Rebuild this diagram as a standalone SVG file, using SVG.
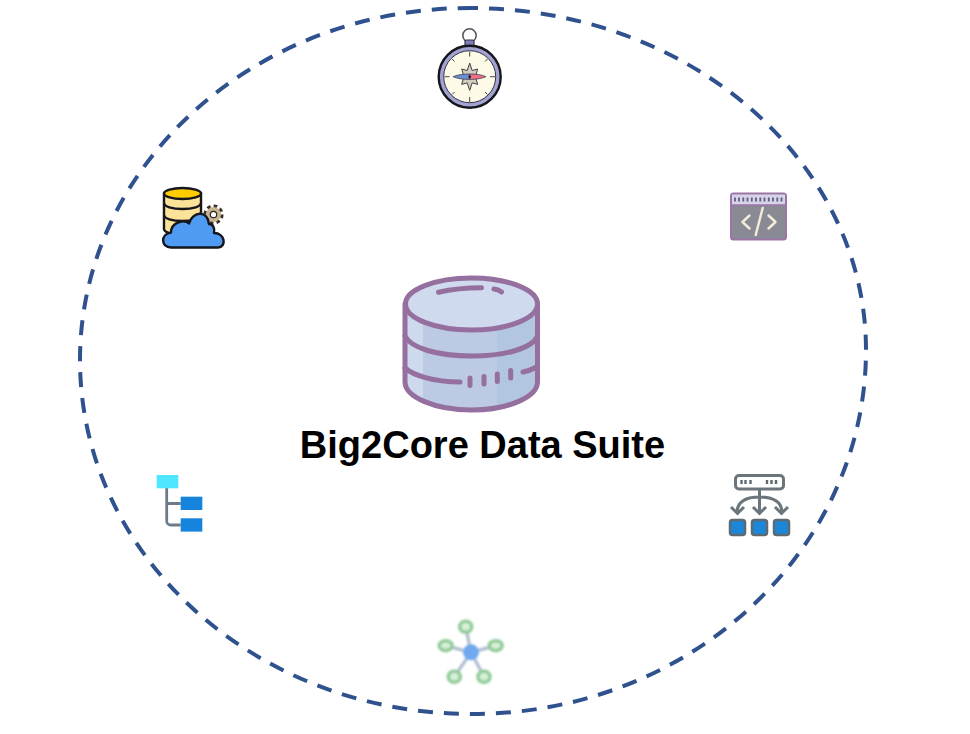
<svg xmlns="http://www.w3.org/2000/svg" width="970" height="734" viewBox="0 0 970 734">
<style>
.title{font-family:"Liberation Sans",Arial,sans-serif;font-weight:700;font-size:38px;fill:#000}
.dbl{fill:none;stroke:#956f9f;stroke-width:5;stroke-linecap:round}
.blk{stroke:#14141c;stroke-width:2.4;stroke-linejoin:round}
.tree{fill:none;stroke:#6c7a89;stroke-width:2.8}
.srv{stroke:#6a757c;stroke-width:3;fill:none}
.sat{fill:#d8efd8;stroke:#8fcb96;stroke-width:3.5}
.hubl{stroke:#a9b9cd;stroke-width:3}
</style>
<defs>
<filter id="s" x="-10%" y="-10%" width="120%" height="120%"><feGaussianBlur stdDeviation="0.5"/></filter>
<filter id="m" x="-10%" y="-10%" width="120%" height="120%"><feGaussianBlur stdDeviation="0.65"/></filter>
<filter id="b" x="-10%" y="-10%" width="120%" height="120%"><feGaussianBlur stdDeviation="1.2"/></filter>
</defs>
<rect width="970" height="734" fill="#fff"/>
<g id="connectors">
<path d="M470 8C688.700 8 866 161.100 866 350C866 551 689.600 714 472 714C255.500 714 80 555.500 80 360C80 165.600 254.600 8 470 8Z" fill="none" stroke="#2f528f" stroke-width="4" stroke-dasharray="15 11" stroke-dashoffset="7"/>
</g>
<g id="node-compass" filter="url(#s)">
<circle cx="469.500" cy="35.500" r="6.700" fill="#fff" stroke="#55555f" stroke-width="1.600"/>
<rect x="465" y="40" width="9" height="6" rx="1.500" fill="#8080b8" stroke="#33334a" stroke-width="1.200"/>
<circle cx="469.700" cy="76.700" r="31" fill="#a3a3d2" class="blk"/>
<circle cx="469.700" cy="76.700" r="26" fill="#fdfbe8" stroke="#33334a" stroke-width="1"/>
<path d="M469.700 51.500v5M469.700 97v5M444.500 76.700h5M490 76.700h5M452 59l2.500 2.500M487.500 59l-2.500 2.500M452 94.500l2.500-2.500M487.500 94.500l-2.500-2.500" stroke="#444" stroke-width="1"/>
<path d="M469.700 63l2.500 7.500 5.500-1.500-2.300 7.700 2.300 7.700-5.500-1.500-2.500 7.500-2.500-7.500-5.500 1.500 2.300-7.700-2.300-7.700 5.500 1.500z" fill="#d0ccc0" stroke="#44444a" stroke-width="1"/>
<path d="M453 76.700c5-2.200 11-2.700 16.700-2.700v5.400c-5.700 0-11.700-.5-16.700-2.700z" fill="#6d8fd0" stroke="#33334a" stroke-width=".7"/>
<path d="M486 76.700c-5-2.200-10.600-2.700-16.300-2.700v5.400c5.700 0 11.300-.5 16.300-2.700z" fill="#ee6f88" stroke="#33334a" stroke-width=".7"/>
<circle cx="469.700" cy="76.700" r="1.300" fill="#111"/>
</g>
<g id="node-cloud-db" filter="url(#s)">
<path d="M164 193v36c0 3 8 6 19 6s18-3 18-6v-36z" fill="#fce39a" class="blk"/>
<path d="M164 203c0 3.500 8 6 18.500 6s18.500-2.500 18.500-6M164 215c0 3.500 8 6 18.500 6s18.500-2.500 18.500-6" fill="none" class="blk"/>
<ellipse cx="182.500" cy="193.500" rx="18.500" ry="5.500" fill="#ffcc00" class="blk"/>
<circle cx="213.500" cy="214.500" r="8.300" fill="none" stroke="#3a3228" stroke-width="3.600" stroke-dasharray="3.500 3"/>
<circle cx="213.500" cy="214.500" r="7.500" fill="#c9b48f"/>
<circle cx="213.500" cy="214.500" r="3.200" fill="#fff" stroke="#222" stroke-width="1.200"/>
<path d="M171 247.500C161 247.500 160 234 171 232.500C171 222 185 219 189 223.500C192 212 207 209 209 224C213 224 215 228 214 233C225 233 227 247 218 247.500Z" fill="#4f9bf3" class="blk"/>
</g>
<g id="node-code" filter="url(#s)">
<rect x="731" y="193.500" width="55" height="46" rx="2.500" fill="#8a8a94" stroke="#9a75a8" stroke-width="2"/>
<rect x="732" y="194.500" width="53" height="10.500" fill="#d9d2ec"/>
<path d="M732 205h53" stroke="#9a75a8" stroke-width="1.500"/>
<path d="M735 197.500v4M739 197.500v4M743.300 197.500v4M747.500 197.500v4M751.800 197.500v4M756 197.500v4M760.300 197.500v4M764.500 197.500v4M768.800 197.500v4M773 197.500v4M777.300 197.500v4M781.500 197.500v4" stroke="#5f5f7a" stroke-width="1.800"/>
<path d="M749.500 215.500l-7 6.500 7 6.500M768.500 215.500l7 6.500-7 6.500M762.700 208l-7 27" fill="none" stroke="#f4ecd8" stroke-width="2.400" stroke-linecap="round" stroke-linejoin="round"/>
</g>
<g id="node-database" filter="url(#s)">
<path d="M405 304v78c0 15 30 28 66.500 28s66-13 66-28v-78z" fill="#bccbe3"/>
<path d="M405 304v78c0 9 8 16 18 20v-78c-10-4-18-12-18-20z" fill="#cdd9ec"/>
<path d="M497 324v82c22-4 40-13 40-24v-78c0 8-18 16-40 20z" fill="#b3c6df"/>
<ellipse cx="471.500" cy="304" rx="66" ry="26" fill="#cfdaee" stroke="#956f9f" stroke-width="5"/>
<path class="dbl" d="M405 304v78c0 15 30 28 66.500 28s66-13 66-28v-78"/>
<path class="dbl" d="M405 336c6 12 32 20 66.500 20s61-8 66-20M405 368c8 7 28 14 55 14M523 372c5-1 9-2.500 12.500-4.500"/>
<path class="dbl" d="M470 378v7.500M484 376.500v7.500M497.300 374v7.500M510.700 370.500v7.500"/>
<path class="dbl" d="M438.500 292.300c13-3 30-4.500 43-4.500M494 289c3 .3 5.500 1.500 7.500 3"/>
</g>
<g id="node-title"><text class="title" x="482.500" y="457.500" text-anchor="middle">Big2Core Data Suite</text></g>
<g id="node-tree" filter="url(#s)">
<path class="tree" d="M166.700 488v33c0 2.500 2 4 4 4h10M166.700 503.500h14"/>
<rect x="156.700" y="475" width="21.600" height="13.300" fill="#50e6ff"/>
<rect x="180.700" y="496.700" width="21.600" height="13.300" fill="#1383dc"/>
<rect x="180.700" y="518.300" width="21.600" height="13.300" fill="#1383dc"/>
</g>
<g id="node-distribution" filter="url(#m)">
<rect x="735.500" y="475.500" width="48" height="13.500" rx="3.500" fill="#fff" class="srv"/>
<path d="M741.500 480v4M745.500 480v4M750.500 480v4M767 480v4M771.500 480v4M776 480v4" stroke="#5d686f" stroke-width="2.400"/>
<path class="srv" d="M759.500 489v24M737 513c0-12 10-16 22.500-16s22.500 4 22.500 16M731 507l6.500 6.500 6.500-6.500M753 507l6.500 6.500 6.500-6.500M775 507l6.500 6.500 6.500-6.500"/>
<rect x="730" y="520" width="15" height="15" rx="2.500" fill="#1b87d8" stroke="#5d6a72" stroke-width="2.500"/>
<rect x="752" y="520" width="15" height="15" rx="2.500" fill="#1b87d8" stroke="#5d6a72" stroke-width="2.500"/>
<rect x="774" y="520" width="15" height="15" rx="2.500" fill="#1b87d8" stroke="#5d6a72" stroke-width="2.500"/>
</g>
<g id="node-hub" filter="url(#b)">
<path class="hubl" d="M471 652.300L465.700 626.700M471 652.300L445.700 645.700M471 652.300L495.700 645.700M471 652.300L454.300 676.700M471 652.300L484 676.700"/>
<ellipse class="sat" cx="465.700" cy="626.700" rx="6" ry="5.500"/>
<ellipse class="sat" cx="445.700" cy="645.700" rx="6.500" ry="5"/>
<ellipse class="sat" cx="495.700" cy="645.700" rx="6.500" ry="5"/>
<ellipse class="sat" cx="454.300" cy="676.700" rx="6" ry="5.500"/>
<ellipse class="sat" cx="484" cy="676.700" rx="6" ry="5.500"/>
<circle cx="471" cy="652.300" r="8" fill="#6fa8ee"/>
</g>
</svg>
